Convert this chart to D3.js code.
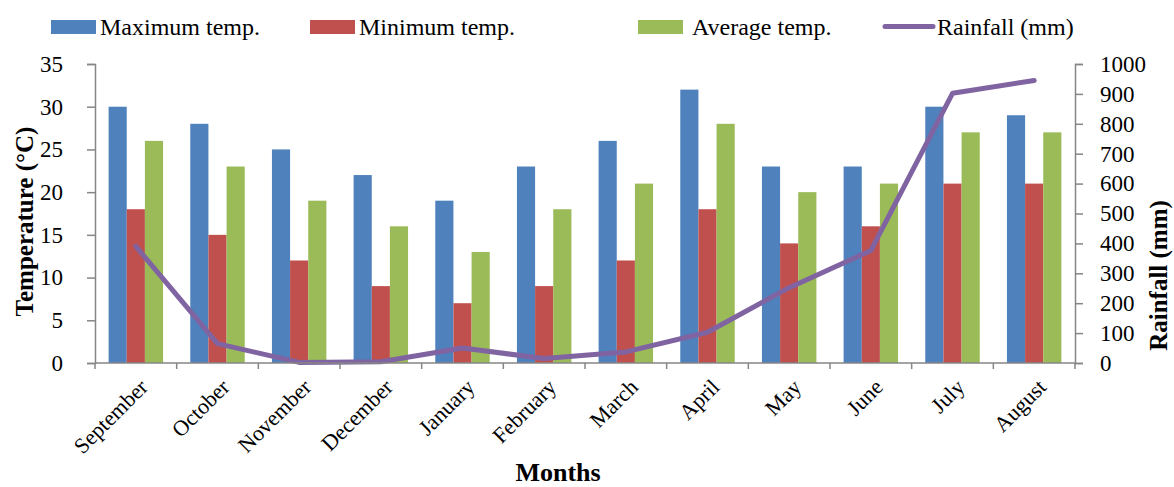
<!DOCTYPE html>
<html>
<head>
<meta charset="utf-8">
<script src="https://cdn.jsdelivr.net/npm/d3@7"></script>
<style>
  html, body { margin: 0; padding: 0; background: #fff; }
  svg { display: block; font-family: "Liberation Serif", "Times New Roman", serif; }
</style>
</head>
<body>
<svg id="chart" width="1174" height="487"></svg>
<script>
// Monthly climate data
const months = ["September", "October", "November", "December", "January", "February",
                "March", "April", "May", "June", "July", "August"];
const maxTemp = [30, 28, 25, 22, 19, 23, 26, 32, 23, 23, 30, 29];
const minTemp = [18, 15, 12, 9, 7, 9, 12, 18, 14, 16, 21, 21];
const avgTemp = [26, 23, 19, 16, 13, 18, 21, 28, 20, 21, 27, 27];
const rainfall = [390, 65, 2, 4, 50, 15, 37, 103, 252, 376, 902, 945];
const tempTicks = [0, 5, 10, 15, 20, 25, 30, 35];
const rainTicks = [0, 100, 200, 300, 400, 500, 600, 700, 800, 900, 1000];

const seriesNames = ["Maximum temp.", "Minimum temp.", "Average temp."];
const seriesValues = [maxTemp, minTemp, avgTemp];
const colors = ["#4F81BD", "#C0504D", "#9BBB59"];
const lineColor = "#8064A2";
const axisColor = "#868686";

const svg = d3.select("#chart");
const plot = { left: 95, right: 1075, top: 64, bottom: 363 };

const x = d3.scaleBand().domain(months).range([plot.left, plot.right]).paddingInner(0).paddingOuter(0);
// three bars per month with a 150% gap shared between neighbouring groups
const inner = d3.scaleBand().domain(d3.range(3)).range([0, x.bandwidth()]).paddingInner(0).paddingOuter(0.75);
const yT = d3.scaleLinear().domain([0, 35]).range([plot.bottom, plot.top]);
const yR = d3.scaleLinear().domain([0, 1000]).range([plot.bottom, plot.top]);

// Bars
seriesValues.forEach((vals, s) => {
  svg.append("g")
    .selectAll("rect")
    .data(vals)
    .join("rect")
    .attr("x", (d, i) => x(months[i]) + inner(s))
    .attr("y", d => yT(d))
    .attr("width", inner.bandwidth())
    .attr("height", d => yT(0) - yT(d))
    .attr("fill", colors[s]);
});

// Rainfall line
const line = d3.line()
  .x((d, i) => x(months[i]) + x.bandwidth() / 2)
  .y(d => yR(d));
svg.append("path")
  .datum(rainfall)
  .attr("d", line)
  .attr("fill", "none")
  .attr("stroke", lineColor)
  .attr("stroke-width", 5)
  .attr("stroke-linejoin", "round")
  .attr("stroke-linecap", "round");

// Axes
function styleAxis(g) {
  g.attr("font-family", null);
  g.selectAll("path, line").attr("stroke", axisColor).attr("stroke-width", 1.5);
  g.selectAll("text").attr("fill", "#000").style("font-size", "23px");
}

svg.append("g")
  .attr("transform", `translate(${plot.left},0)`)
  .call(d3.axisLeft(yT).tickValues(tempTicks).tickFormat(d3.format("d"))
    .tickSize(8).tickSizeOuter(8).tickPadding(24))
  .call(styleAxis);

svg.append("g")
  .attr("transform", `translate(${plot.right},0)`)
  .call(d3.axisRight(yR).tickValues(rainTicks).tickFormat(d3.format("d"))
    .tickSize(8).tickSizeOuter(8).tickPadding(17))
  .call(styleAxis);

// Category axis with ticks at band boundaries
const xAxis = svg.append("g");
xAxis.append("line")
  .attr("x1", plot.left).attr("x2", plot.right)
  .attr("y1", plot.bottom).attr("y2", plot.bottom)
  .attr("stroke", axisColor).attr("stroke-width", 1.5);
xAxis.selectAll("line.tick")
  .data(d3.range(months.length + 1))
  .join("line")
  .attr("class", "tick")
  .attr("x1", i => plot.left + i * x.step())
  .attr("x2", i => plot.left + i * x.step())
  .attr("y1", plot.bottom).attr("y2", plot.bottom + 6)
  .attr("stroke", axisColor).attr("stroke-width", 1.5);
xAxis.selectAll("text")
  .data(months)
  .join("text")
  .attr("transform", d => `translate(${x(d) + x.bandwidth() / 2 + 8},${plot.bottom + 20}) rotate(-45)`)
  .attr("text-anchor", "end")
  .attr("dy", "0.35em")
  .style("font-size", "22px")
  .text(d => d);

// Axis titles
svg.append("text")
  .attr("transform", `translate(33,${(plot.top + plot.bottom) / 2 + 8}) rotate(-90)`)
  .attr("text-anchor", "middle")
  .style("font-size", "25px").style("font-weight", "bold")
  .text("Temperature (°C)");
svg.append("text")
  .attr("transform", `translate(1167,${(plot.top + plot.bottom) / 2 + 62}) rotate(-90)`)
  .attr("text-anchor", "middle")
  .style("font-size", "25px").style("font-weight", "bold")
  .text("Rainfall (mm)");
svg.append("text")
  .attr("x", 558).attr("y", 481)
  .attr("text-anchor", "middle")
  .style("font-size", "26px").style("font-weight", "bold")
  .text("Months");

// Legend
const legendItems = [
  { name: seriesNames[0], color: colors[0], type: "rect", x: 51, tx: 100 },
  { name: seriesNames[1], color: colors[1], type: "rect", x: 310, tx: 359 },
  { name: seriesNames[2], color: colors[2], type: "rect", x: 638, tx: 692 },
  { name: "Rainfall (mm)", color: lineColor, type: "line", x: 885, tx: 937 }
];
const legend = svg.append("g");
legendItems.forEach(it => {
  if (it.type === "rect") {
    legend.append("rect").attr("x", it.x).attr("y", 20).attr("width", 45).attr("height", 14).attr("fill", it.color);
  } else {
    legend.append("line").attr("x1", it.x).attr("x2", it.x + 48).attr("y1", 26.5).attr("y2", 26.5)
      .attr("stroke", it.color).attr("stroke-width", 5).attr("stroke-linecap", "round");
  }
  legend.append("text").attr("x", it.tx).attr("y", 35)
    .style("font-size", "24px").text(it.name);
});
</script>
</body>
</html>
